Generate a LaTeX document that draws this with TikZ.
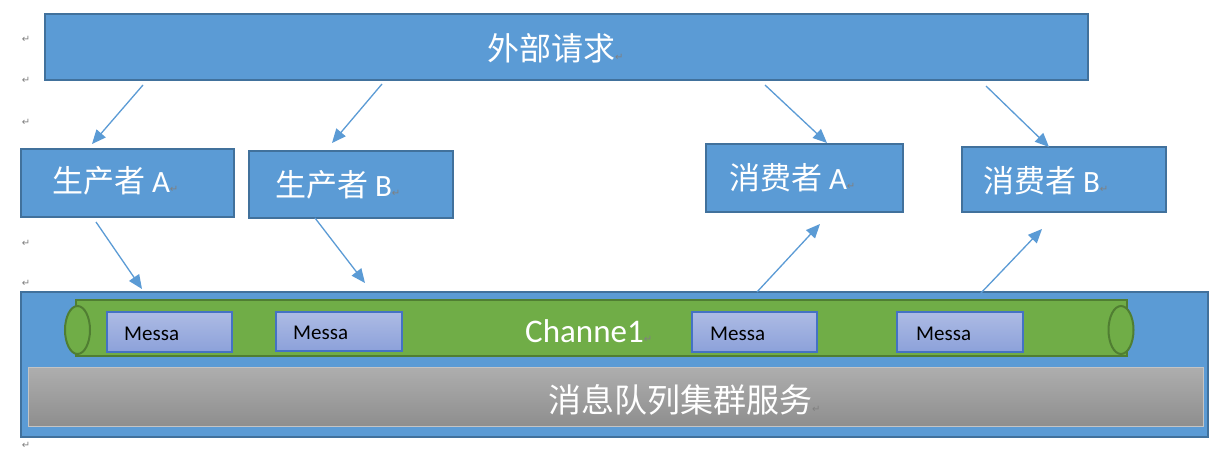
\documentclass[tikz,border=0pt]{standalone}
\usepackage{fontspec}
\setmainfont{Carlito}
\newfontfamily\cjk{Noto Sans CJK SC}
\newfontfamily\symfont{DejaVu Sans}
\usetikzlibrary{arrows.meta,shapes.geometric}
\definecolor{boxblue}{HTML}{5B9BD5}
\definecolor{boxedge}{HTML}{41719C}
\definecolor{tubegreen}{HTML}{70AD47}
\definecolor{tubeedge}{HTML}{507E32}
\definecolor{msgedge}{HTML}{4472C4}
\definecolor{msgtop}{HTML}{ADBBE4}
\definecolor{msgbot}{HTML}{8CA1DA}
\definecolor{graytop}{HTML}{AEAEAE}
\definecolor{graybot}{HTML}{8E8E8E}
\definecolor{grayedge}{HTML}{C4C4C4}
\definecolor{markgray}{HTML}{808080}
\newcommand{\retmark}{{\symfont\fontsize{10}{10}\selectfont\textcolor{markgray}{↵}}}
\newcommand{\cjkbig}[1]{{\cjk\fontsize{31}{31}\selectfont #1}}
\begin{document}
\begin{tikzpicture}[x=1pt,y=-1pt,
  bluebox/.style={draw=boxedge, line width=2pt, fill=boxblue, inner sep=0pt, outer sep=0pt, anchor=north west},
  msgbox/.style={draw=msgedge, line width=1.1pt, top color=msgtop, bottom color=msgbot, inner sep=0pt, outer sep=0pt, anchor=north west},
  tubeend/.style={ellipse, draw=tubeedge, line width=2pt, fill=tubegreen, inner sep=0pt, minimum width=25pt, minimum height=48pt},
  flow/.style={draw=boxblue, line width=1.3pt, -{Triangle[length=14pt,width=12pt]}},
  whitetxt/.style={anchor=base west, inner sep=0pt, outer sep=0pt, text=white, font=\fontsize{31}{31}\selectfont},
  msgtxt/.style={anchor=base west, inner sep=0pt, text=black, font=\fontsize{21}{21}\selectfont},
  margmark/.style={inner sep=0pt, font=\symfont\fontsize{10}{10}\selectfont, text=markgray}
]
\useasboundingbox (0,0) rectangle (1210,449);
\fill[white] (0,0) rectangle (1210,449);

% margin paragraph marks
\node[margmark] (pm1) at (26,39) {↵};
\node[margmark] (pm2) at (26,80) {↵};
\node[margmark] (pm3) at (26,122) {↵};
\node[margmark] (pm4) at (26,243) {↵};
\node[margmark] (pm5) at (26,283) {↵};
\node[margmark] (pm6) at (26,445) {↵};

% top request box
\node[bluebox, minimum width=1043pt, minimum height=66pt] (req) at (45,14) {};
\node[anchor=base west, inner sep=0pt, text=white, font=\cjk\fontsize{32}{32}\selectfont] (reqtxt) at (487,61) {外部请求\retmark};

% producers and consumers
\node[bluebox, minimum width=213pt, minimum height=68pt] (pa) at (21,149) {};
\node[bluebox, minimum width=204pt, minimum height=67pt] (pb) at (249,151) {};
\node[bluebox, minimum width=197pt, minimum height=68pt] (ca) at (706,144) {};
\node[bluebox, minimum width=204pt, minimum height=65pt] (cb) at (962,147) {};
\node[whitetxt] (patxt) at (52,193) {\cjkbig{生产者} A\retmark};
\node[whitetxt] (pbtxt) at (275,197) {\cjkbig{生产者} B\retmark};
\node[whitetxt] (catxt) at (729,190) {\cjkbig{消费者} A\retmark};
\node[whitetxt] (cbtxt) at (983,193) {\cjkbig{消费者} B\retmark};

% message queue cluster
\node[bluebox, minimum width=1187pt, minimum height=145pt] (mq) at (21,292) {};
\node[draw=grayedge, line width=1pt, top color=graytop, bottom color=graybot, inner sep=0pt, outer sep=0pt, anchor=north west, minimum width=1175pt, minimum height=59pt] (svc) at (28,367) {};
\node[anchor=base west, inner sep=0pt, text=white, font=\cjk\fontsize{33}{33}\selectfont] (svctxt) at (548,412) {消息队列集群服务\retmark};

% channel tube
\node[draw=tubeedge, line width=2pt, fill=tubegreen, inner sep=0pt, outer sep=0pt, anchor=north west, minimum width=1051pt, minimum height=56pt] (tube) at (76,300) {};
\node[tubeend] (tubel) at (77.5,330) {};
\node[tubeend] (tuber) at (1121,330) {};
\node[anchor=base west, inner sep=0pt, text=white, font=\fontsize{33}{33}\selectfont] (chtxt) at (525,342) {Channe1\retmark};

% messages
\node[msgbox, minimum width=125pt, minimum height=40pt] (m1) at (107,312) {};
\node[msgbox, minimum width=126pt, minimum height=39pt] (m2) at (276,312) {};
\node[msgbox, minimum width=125pt, minimum height=40pt] (m3) at (692,312) {};
\node[msgbox, minimum width=126pt, minimum height=40pt] (m4) at (897,312) {};
\node[msgtxt] (m1txt) at (124,340) {Messa};
\node[msgtxt] (m2txt) at (293,339) {Messa};
\node[msgtxt] (m3txt) at (710,340) {Messa};
\node[msgtxt] (m4txt) at (916,340) {Messa};

% connector end points
\coordinate (a1s) at (143,85);  \coordinate (a1e) at (92,144);
\coordinate (a2s) at (382,84);  \coordinate (a2e) at (332,143);
\coordinate (a3s) at (765,85);  \coordinate (a3e) at (827,143);
\coordinate (a4s) at (986,86);  \coordinate (a4e) at (1049,147);
\coordinate (a5s) at (96,222);  \coordinate (a5e) at (142,289);
\coordinate (a6s) at (315,218); \coordinate (a6e) at (365,283);
\coordinate (a7s) at (757,292); \coordinate (a7e) at (820,224);
\coordinate (a8s) at (980,294); \coordinate (a8e) at (1042,229);

\draw[flow] (a1s) -- (a1e);
\draw[flow] (a2s) -- (a2e);
\draw[flow] (a3s) -- (a3e);
\draw[flow] (a4s) -- (a4e);
\draw[flow] (a5s) -- (a5e);
\draw[flow] (a6s) -- (a6e);
\draw[flow] (a7s) -- (a7e);
\draw[flow] (a8s) -- (a8e);
\end{tikzpicture}
\end{document}
